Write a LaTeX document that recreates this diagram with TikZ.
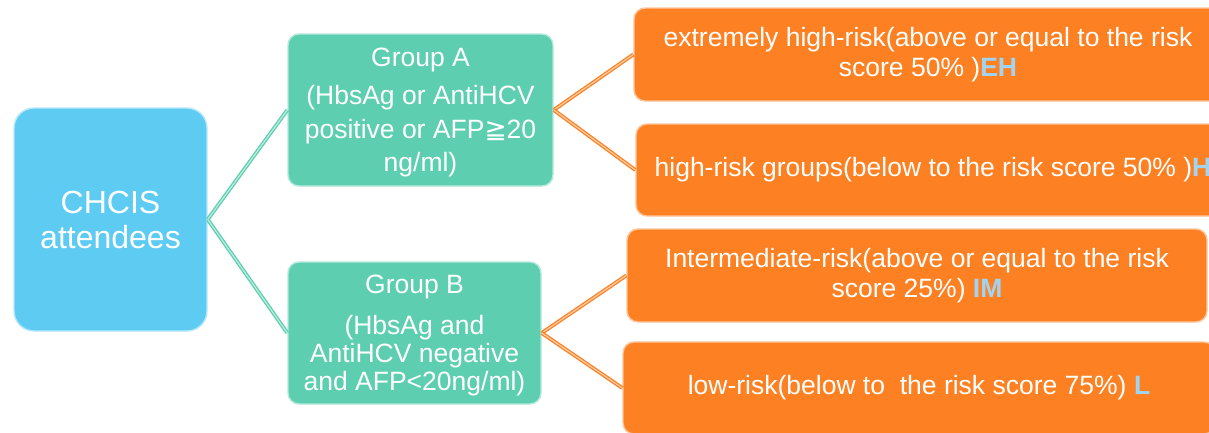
\documentclass[tikz,border=0pt]{standalone}
\usepackage{fontspec}
\setmainfont{Liberation Sans}
\newfontfamily\symfnt{DejaVu Sans}
\definecolor{cblue}{RGB}{94,203,243}
\definecolor{cteal}{RGB}{93,206,176}
\definecolor{corange}{RGB}{253,129,34}
\definecolor{clab}{RGB}{160,212,242}
\tikzset{
  boxbase/.style={rounded corners=11pt, inner sep=0pt, align=center, text=white, line width=1.4pt},
  cbox/.style={boxbase, fill=cblue, draw=cblue!45!white, rounded corners=20pt, font=\fontsize{32}{35}\selectfont},
  gbox/.style={boxbase, fill=cteal, draw=cteal!45!white},
  obox/.style={boxbase, fill=corange, draw=corange!45!white, font=\fontsize{26.5}{30.5}\selectfont},
  gtext/.style={text=white, align=center},
  tline/.style={draw=cteal, line width=1.3pt, double=cteal!40!white, double distance=1.2pt},
  oline/.style={draw=corange, line width=1.3pt, double=corange!40!white, double distance=1.2pt}
}
\newcommand{\lb}[1]{\textcolor{clab}{\textbf{#1}}}
\begin{document}
\begin{tikzpicture}[x=1pt,y=-1pt]
\useasboundingbox (0,0) rectangle (1209,432);
\fill[white] (0,0) rectangle (1209,432);
\node[cbox, minimum width=193pt, minimum height=223pt] (c) at (110.5,219.5) {CHCIS\\attendees};
\node[gbox, minimum width=265pt, minimum height=152pt] (a) at (420.5,110) {};
\node[gbox, minimum width=253pt, minimum height=142pt] (b) at (414.5,333) {};
\node[gtext, font=\fontsize{26.5}{33.5}\selectfont] (at) at (420.5,112.5) {Group A\\[5pt](HbsAg or AntiHCV\\positive or AFP{\symfnt ≧}20\\ng/ml)};
\node[gtext, font=\fontsize{26.5}{28}\selectfont] (bt) at (414.5,335) {Group B\\[13pt](HbsAg and\\AntiHCV negative\\and AFP<20ng/ml)};
\node[obox, minimum width=588pt, minimum height=93pt] (eh) at (928,54.5) {extremely high-risk(above or equal to the risk\\score 50\% )\lb{EH}};
\node[obox, minimum width=594pt, minimum height=92pt] (h) at (933,170) {high-risk groups(below to the risk score 50\% )\lb{H}};
\node[obox, minimum width=580pt, minimum height=93pt] (im) at (917,275.5) {Intermediate-risk(above or equal to the risk\\score 25\%) \lb{IM}};
\node[obox, minimum width=592pt, minimum height=92pt] (l) at (919,388) {low-risk(below to\ \ the risk score 75\%) \lb{L}};
\draw[tline] (c.east) -- (a.west);
\draw[tline] (c.east) -- (b.west);
\draw[oline] (a.east) -- (eh.west);
\draw[oline] (a.east) -- (h.west);
\draw[oline] (b.east) -- (im.west);
\draw[oline] (b.east) -- (l.west);
\end{tikzpicture}
\end{document}
